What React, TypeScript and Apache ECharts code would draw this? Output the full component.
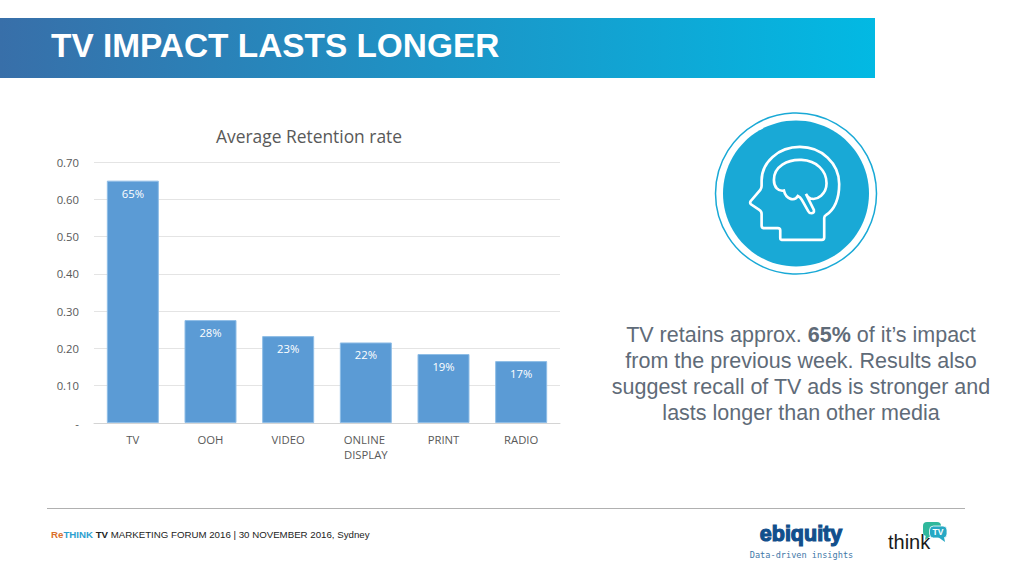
import React, { useEffect, useRef } from "react";
import * as echarts from "echarts";

const categories = ["TV", "OOH", "VIDEO", "ONLINE DISPLAY", "PRINT", "RADIO"];
const retention = [0.65, 0.276, 0.233, 0.216, 0.185, 0.166];
const slideTitle = "TV IMPACT LASTS LONGER";
const chartTitle = "Average Retention rate";

const headPath =
  "M245 420 L366 420 Q373 420 373 413 L373 354 Q373 349 378 346 C405 328 418 292 418 252 C418 190 365 141 300 141 C235 141 185 187 185 242 L185 258 Q185 264 181 270 L152 304 Q149 309 153 313 L178 330 Q185 334 185 342 L185 378 Q185 385 192 385 L234 385 Q241 385 241 392 L241 414 Q241 420 245 420 Z";
const brainPath =
  "M222 240 C222 200 262 178 305 180 C350 182 380 212 380 250 C380 282 352 302 332 296 C326 294 322 290 318 282 L342 330 Q344 340 334 340 Q328 340 325 334 L306 300 C303 294 300 290 294 288 C285 305 258 300 252 272 C235 275 222 262 222 240 Z";

const FONT = "Liberation Sans";
const CHART_FONT = "Open Sans";

export default function App() {
  const ref = useRef<HTMLDivElement>(null);
  useEffect(() => {
    echarts.graphic.registerShape("headOutline", echarts.graphic.extendPath(headPath, {}));
    echarts.graphic.registerShape("brainOutline", echarts.graphic.extendPath(brainPath, {}));
    const chart = echarts.init(ref.current!, null, { renderer: "svg" });
    const bodyLine = (y: number, rich: any, text: string) => ({
      type: "text",
      x: 801,
      y,
      style: {
        text,
        align: "center",
        verticalAlign: "middle",
        font: `21.5px "${FONT}"`,
        fill: "#5f6b78",
        rich,
      },
    });
    const boldRich = {
      n: { font: `21.5px "${FONT}"`, fill: "#5f6b78" },
      b: { font: `bold 21.5px "${FONT}"`, fill: "#5f6b78" },
    };
    chart.setOption({
      animation: false,
      backgroundColor: "#ffffff",
      title: {
        text: chartTitle,
        left: 304,
        top: 122,
        textAlign: "center",
        textStyle: { fontFamily: CHART_FONT, fontSize: 17.4, fontWeight: "normal", color: "#595959" },
      },
      grid: { left: 94, top: 162, width: 466, height: 261 },
      xAxis: {
        type: "category",
        data: categories,
        axisTick: { show: false },
        axisLine: { lineStyle: { color: "#d4d4d4", width: 1 } },
        axisLabel: {
          interval: 0,
          margin: 9,
          width: 70,
          overflow: "break",
          lineHeight: 15,
          fontFamily: CHART_FONT,
          fontSize: 11.3,
          color: "#595959",
        },
      },
      yAxis: {
        type: "value",
        min: 0,
        max: 0.7,
        interval: 0.1,
        axisLine: { show: false },
        axisTick: { show: false },
        splitLine: { lineStyle: { color: "#e4e4e4", width: 1 } },
        axisLabel: {
          margin: 15,
          fontFamily: CHART_FONT,
          fontSize: 11.3,
          color: "#595959",
          formatter: (v: number) => (v === 0 ? "-" : v.toFixed(2)),
        },
      },
      series: [
        {
          type: "bar",
          data: retention,
          barWidth: 52,
          itemStyle: { color: "#5b9bd5", borderColor: "#8fbde6", borderWidth: 1 },
          label: {
            show: true,
            position: "insideTop",
            distance: 7,
            fontFamily: CHART_FONT,
            fontSize: 11.3,
            color: "#ffffff",
            formatter: (p: any) => `${Math.round(p.value * 100)}%`,
          },
        },
      ],
      graphic: [
        {
          type: "rect",
          shape: { x: 0, y: 18, width: 875, height: 60 },
          style: {
            fill: {
              type: "linear",
              x: 0,
              y: 0,
              x2: 1,
              y2: 0,
              colorStops: [
                { offset: 0, color: "#386fa9" },
                { offset: 1, color: "#02b9e3" },
              ],
            },
          },
        },
        {
          type: "text",
          x: 51,
          y: 45,
          style: {
            text: slideTitle,
            verticalAlign: "middle",
            font: `bold 33.4px "${FONT}"`,
            fill: "#ffffff",
          },
        },
        { type: "circle", shape: { cx: 796, cy: 193.5, r: 80.5 }, style: { fill: "none", stroke: "#19a9d6", lineWidth: 1.5 } },
        { type: "circle", shape: { cx: 796, cy: 193.5, r: 73 }, style: { fill: "#19a9d6" } },
        {
          type: "headOutline",
          x: 700,
          y: 100,
          scaleX: 1 / 3,
          scaleY: 1 / 3,
          style: { fill: "none", stroke: "#ffffff", lineWidth: 8 },
        },
        {
          type: "brainOutline",
          x: 700,
          y: 100,
          scaleX: 1 / 3,
          scaleY: 1 / 3,
          style: { fill: "none", stroke: "#ffffff", lineWidth: 8 },
        },
        bodyLine(335, boldRich, "{n|TV retains approx. }{b|65%}{n| of it\u2019s impact}"),
        bodyLine(361, boldRich, "{n|from the previous week. Results also}"),
        bodyLine(387, boldRich, "{n|suggest recall of TV ads is stronger and}"),
        bodyLine(413, boldRich, "{n|lasts longer than other media}"),
        { type: "line", shape: { x1: 47, y1: 508.5, x2: 965, y2: 508.5 }, style: { stroke: "#b0b0b0", lineWidth: 1 } },
        {
          type: "text",
          x: 51,
          y: 534.5,
          style: {
            text: "{o|Re}{c|THINK} {k|TV} {t|MARKETING FORUM 2016 | 30 NOVEMBER 2016, Sydney}",
            verticalAlign: "middle",
            font: `9.7px "${FONT}"`,
            fill: "#222222",
            rich: {
              o: { font: `bold 9.7px "${FONT}"`, fill: "#d9702c" },
              c: { font: `bold 9.7px "${FONT}"`, fill: "#2e9fd0" },
              k: { font: `bold 9.7px "${FONT}"`, fill: "#222222" },
              t: { font: `9.7px "${FONT}"`, fill: "#222222" },
            },
          },
        },
        {
          type: "text",
          x: 801,
          y: 534,
          style: {
            text: "ebiquity",
            align: "center",
            verticalAlign: "middle",
            font: `bold 21.5px "${FONT}"`,
            fill: "#124f8c",
            stroke: "#124f8c",
            lineWidth: 1.2,
          },
        },
        {
          type: "text",
          x: 801.5,
          y: 554.5,
          style: {
            text: "Data-driven insights",
            align: "center",
            verticalAlign: "middle",
            font: `8.6px "DejaVu Sans Mono"`,
            fill: "#3f78a8",
          },
        },
        {
          type: "text",
          x: 888,
          y: 542,
          style: {
            text: "think",
            verticalAlign: "middle",
            font: `20px "${FONT}"`,
            fill: "#1a1a1a",
          },
        },
        { type: "rect", shape: { x: 923, y: 522, width: 18, height: 14, r: 4 }, style: { fill: "#2fb89c" } },
        { type: "polygon", shape: { points: [[926, 534], [932, 535], [925, 540]] }, style: { fill: "#2fb89c" } },
        { type: "rect", shape: { x: 929.5, y: 526, width: 17.5, height: 12, r: 4 }, style: { fill: "#27a8c4", stroke: "#ffffff", lineWidth: 0.8 } },
        { type: "polygon", shape: { points: [[938, 537], [944, 537], [945, 542]] }, style: { fill: "#27a8c4" } },
        {
          type: "text",
          x: 938,
          y: 532,
          style: {
            text: "TV",
            align: "center",
            verticalAlign: "middle",
            font: `bold 8.5px "${FONT}"`,
            fill: "#ffffff",
          },
        },
      ],
    });
    return () => chart.dispose();
  }, []);
  return (
    <div
      ref={ref}
      style={{ position: "absolute", left: 0, top: 0, width: 1024, height: 579 }}
    />
  );
}
